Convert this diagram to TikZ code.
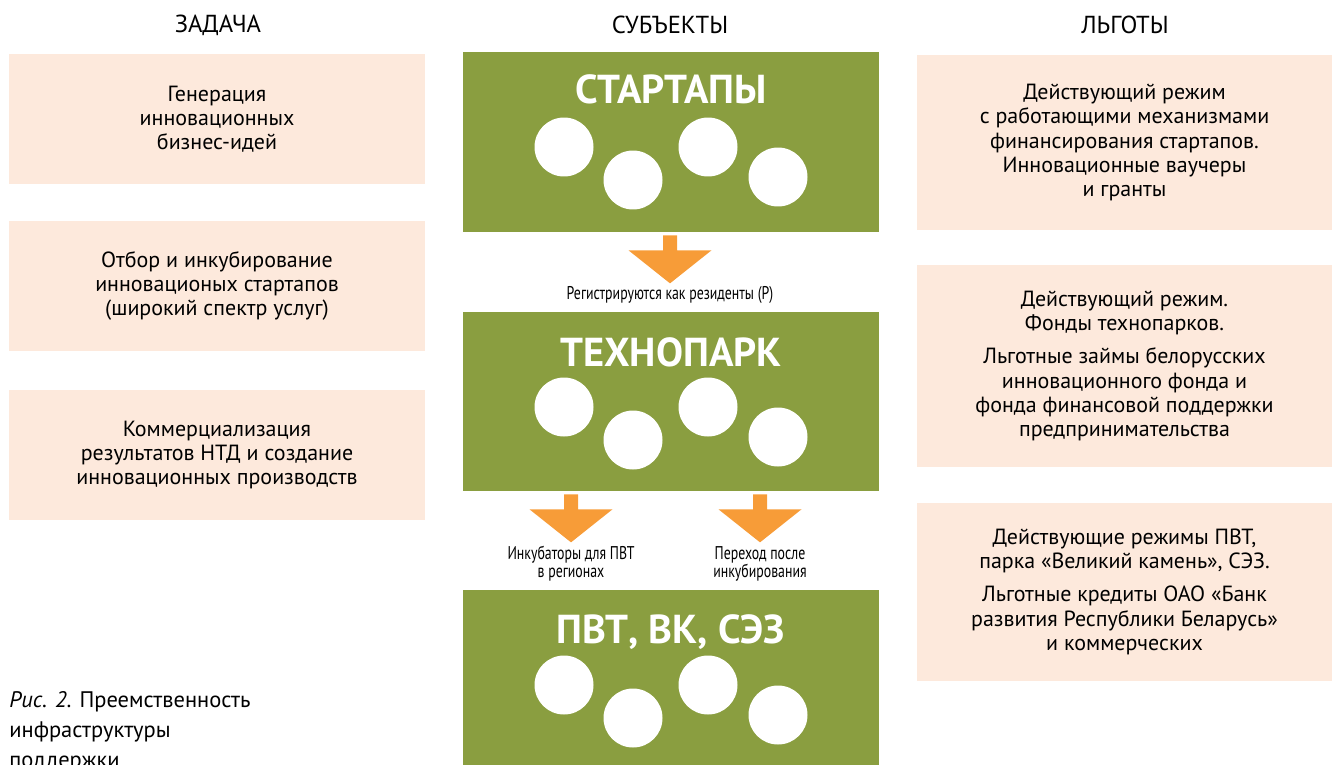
\documentclass[tikz,border=0pt]{standalone}
\usepackage{fontspec}
\setmainfont{PT Sans}
\newfontfamily\narrowfont[FakeStretch=0.75]{PT Sans}
\usetikzlibrary{positioning}
\definecolor{peach}{HTML}{FDE9DC}
\definecolor{subjgreen}{HTML}{8A9E40}
\definecolor{arroworange}{HTML}{F79C38}
\tikzset{
    heading/.style={font=\fontsize{14}{16}\selectfont},
    taskbox/.style={fill=peach, minimum width=8.32cm, minimum height=2.6cm, align=center, font=\fontsize{12.5}{13.8}\selectfont},
    perkbox/.style={fill=peach, minimum width=8.3cm, align=center, font=\fontsize{12.5}{13.8}\selectfont},
    subjbox/.style={fill=subjgreen, minimum width=8.32cm, minimum height=3.6cm},
    subjtitle/.style={text=white, font=\fontsize{23}{26}\selectfont\bfseries},
    arrowlabel/.style={align=center, font=\narrowfont\fontsize{10.5}{10.3}\selectfont},
    downarrow/.pic={
        \fill[arroworange] (-7,0) -- (7,0) -- (7,15) -- (41.5,15) -- (0,48) -- (-41.5,15) -- (-7,15) -- cycle;
    }
}
\begin{document}
\begin{tikzpicture}[x=0.02cm,y=-0.02cm]
            \useasboundingbox (0,0) rectangle (1334,764);
            % column headings
            \node[heading] (hTask) at (218,25) {ЗАДАЧА};
            \node[heading] (hSubj) at (670,25) {СУБЪЕКТЫ};
            \node[heading] (hPerk) at (1125,25) {ЛЬГОТЫ};
            % tasks
            \node[taskbox] (task1) at (217,119) {Генерация\\инновационных\\бизнес-идей};
            \node[taskbox] (task2) at (217,286) {Отбор и инкубирование\\инновационых стартапов\\(широкий спектр услуг)};
            \node[taskbox] (task3) at (217,455) {Коммерциализация\\результатов НТД и создание\\инновационных производств};
            % subjects
            \node[subjbox] (start) at (671,142) {};
            \node[subjbox, minimum height=3.58cm] (tech) at (671,401.5) {};
            \node[subjbox] (pvt) at (671,680) {};
            \node[subjtitle] (startT) at (671,89) {СТАРТАПЫ};
            \node[subjtitle] (techT) at (671,352) {ТЕХНОПАРК};
            \node[subjtitle] (pvtT) at (671,632) {ПВТ, ВК, СЭЗ};
            \foreach \y in {52,312,590}{
                \foreach \x/\dy in {564/95,633/128,708/95,778/125}{
                    \fill[white] (\x,\y+\dy) circle (0.59cm);
                }
            }
            % arrows between subjects
            \path (start.south) ++(-1,3) pic {downarrow};
            \path (tech.south) ++(-100,3) pic {downarrow};
            \path (tech.south) ++(89,3) pic {downarrow};
            \node[arrowlabel] (regL) at (670,295) {Регистрируются как резиденты (Р)};
            \node[arrowlabel] (incL) at (571,564) {Инкубаторы для ПВТ\\в регионах};
            \node[arrowlabel] (moveL) at (760,564) {Переход после\\инкубирования};
            % perks
            \node[perkbox, minimum height=3.5cm] (perk1) at (1124.5,142.5) {Действующий режим\\с работающими механизмами\\финансирования стартапов.\\Инновационные ваучеры\\и гранты};
            \node[perkbox, minimum height=4.04cm] (perk2) at (1124.5,366) {Действующий режим.\\Фонды технопарков.\\[5pt]Льготные займы белорусских\\инновационного фонда и\\фонда финансовой поддержки\\предпринимательства};
            \node[perkbox, minimum height=3.56cm] (perk3) at (1124.5,592) {Действующие режимы ПВТ,\\парка «Великий камень», СЭЗ.\\[5pt]Льготные кредиты ОАО «Банк\\развития Республики Беларусь»\\и коммерческих};
            % caption
            \node[anchor=north west, align=left, inner sep=0pt, font=\fontsize{12.8}{17}\selectfont] (caption) at (9,691) {\textit{Рис. 2}. Преемственность\\инфраструктуры\\поддержки};
        \end{tikzpicture}
\end{document}
